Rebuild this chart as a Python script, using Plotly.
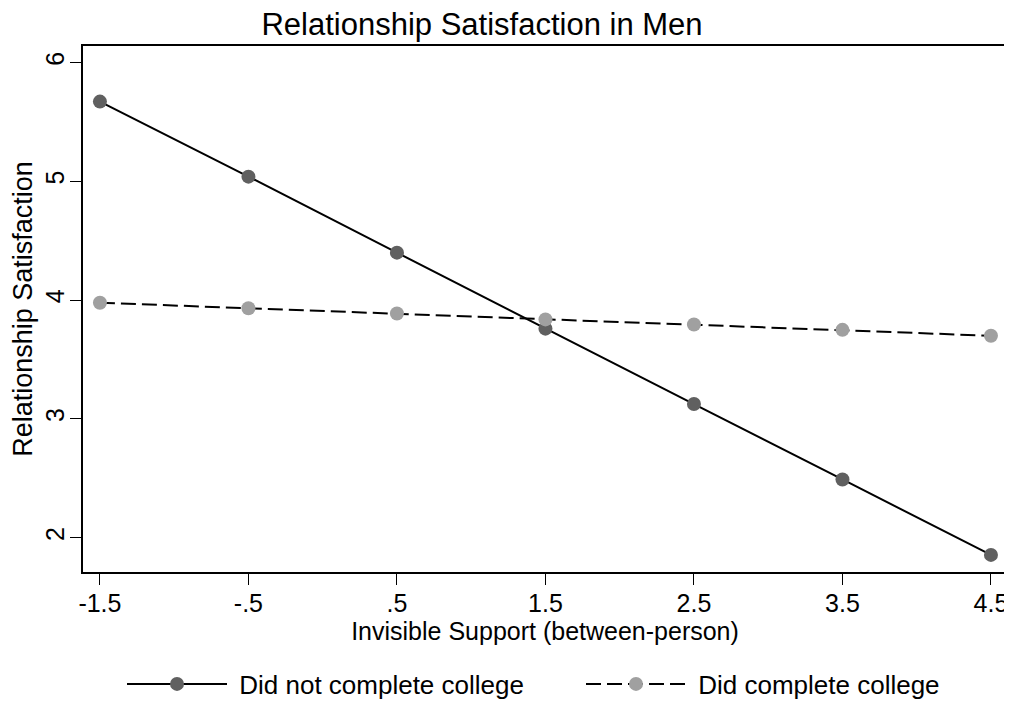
import plotly.graph_objects as go

x_vals = [-1.5, -0.5, 0.5, 1.5, 2.5, 3.5, 4.5]
no_college = [5.672, 5.04, 4.40, 3.76, 3.125, 2.49, 1.855]
college = [3.978, 3.932, 3.888, 3.838, 3.795, 3.75, 3.70]
x_ticks = [-1.5, -0.5, 0.5, 1.5, 2.5, 3.5, 4.5]
x_tick_text = ["-1.5", "-.5", ".5", "1.5", "2.5", "3.5", "4.5"]
y_ticks = [2, 3, 4, 5, 6]

FONT = "Liberation Sans, Arial, Helvetica, sans-serif"
# page body has an 8px margin, so the figure is sized/offset to compensate
W, H = 1004, 694
OFF = 8

fig = go.Figure()
fig.add_trace(go.Scatter(
    x=x_vals, y=no_college, mode="lines+markers",
    name="\u00a0Did not complete college", legend="legend",
    line=dict(color="black", width=2),
    marker=dict(color="#606060", size=14),
))
fig.add_trace(go.Scatter(
    x=x_vals, y=college, mode="lines+markers",
    name="\u00a0Did complete college", legend="legend2",
    line=dict(color="black", width=2, dash="15px,6px"),
    marker=dict(color="#a0a0a0", size=14),
))

leg_common = dict(orientation="h", yref="container", y=1 - (684 - OFF) / H, yanchor="middle",
                  xref="container", xanchor="left",
                  font=dict(size=26, family=FONT), itemwidth=100,
                  bgcolor="rgba(0,0,0,0)", borderwidth=0)

fig.update_layout(
    width=W, height=H,
    margin=dict(l=83 - OFF, r=5, t=46 - OFF, b=H - (572 - OFF)),
    paper_bgcolor="white", plot_bgcolor="white",
    font=dict(family=FONT, color="black", size=24),
    title=dict(text="Relationship Satisfaction in Men", xref="container", x=(482 - OFF) / W,
               xanchor="center", yref="container", y=1 - (24 - OFF) / H, yanchor="middle",
               font=dict(size=31, family=FONT)),
    showlegend=True,
    legend=dict(x=(128 - OFF - 6) / W, **leg_common),
    legend2=dict(x=(587 - OFF - 6) / W, **leg_common),
    xaxis=dict(range=[-1.614, 4.608], tickvals=x_ticks, ticktext=x_tick_text,
               showgrid=False, zeroline=False, showline=True, linecolor="black",
               linewidth=1.5, mirror=True, ticks="outside", ticklen=11, tickwidth=1.2,
               tickcolor="black", tickfont=dict(size=25), automargin=False,
               ticklabelstandoff=-3,
               title=dict(text="Invisible Support (between-person)", font=dict(size=25),
                          standoff=4)),
    yaxis=dict(range=[1.711, 6.14], tickvals=y_ticks,
               showgrid=False, zeroline=False, showline=True, linecolor="black",
               linewidth=1.5, mirror=True, ticks="outside", ticklen=11, tickwidth=1.2,
               tickcolor="black", tickangle=-90, tickfont=dict(size=25), automargin=False,
               ticklabelstandoff=-4,
               title=dict(text="Relationship Satisfaction", font=dict(size=27), standoff=3)),
)

fig.write_html("out.html")
